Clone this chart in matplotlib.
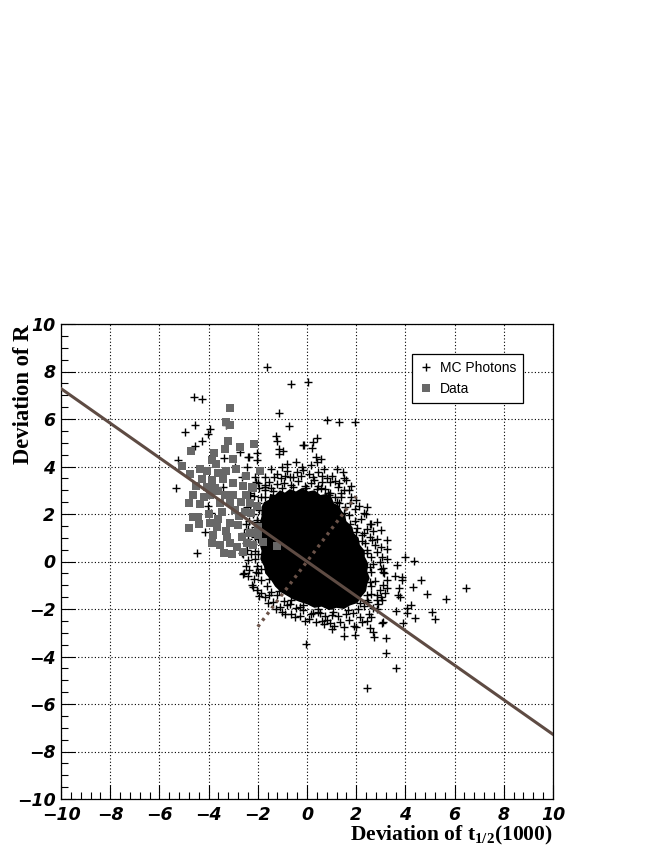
import numpy as np
import matplotlib.pyplot as plt
from matplotlib.ticker import MultipleLocator

# MC photon points (deviation of t1/2, deviation of R)
mc_outer = [
    (-1.63, 8.19), (-0.65, 7.46), (0.03, 7.56), (-1.14, 6.24), (-0.73, 5.72),
    (0.80, 5.94), (1.29, 5.89), (1.96, 5.86), (0.42, 5.21), (0.23, 5.03),
    (-0.15, 4.91), (0.19, 4.77), (-1.26, 5.28), (-1.23, 5.07), (-1.13, 4.72),
    (-0.96, 4.67), (-1.13, 4.53), (0.37, 4.40), (-2.04, 4.58), (-2.39, 4.39),
    (-2.04, 4.26), (1.48, 3.78), (1.52, 3.50),
    (-4.61, 6.94), (-4.26, 6.84), (-4.57, 5.76), (-4.95, 5.44), (-3.94, 5.58),
    (-4.01, 5.37), (-4.26, 5.06), (-4.55, 4.86), (-3.28, 5.76), (-0.13, 4.91),
    (-2.36, 4.41), (-3.39, 4.34), (-2.72, 4.62), (-5.24, 4.27), (-5.34, 3.08),
    (-2.91, 3.97), (-2.45, 3.97), (-2.65, 3.57), (-2.13, 3.55), (-2.07, 3.33),
    (-3.40, 3.15), (-2.32, 2.87), (-1.71, 3.15), (-4.04, 2.34), (-3.90, 2.03),
    (-4.13, 1.23), (-4.48, 0.35), (-2.63, 0.35), (-2.27, 0.31), (-2.55, -0.50),
    (-2.07, -0.46),
    (3.01, 1.33), (3.27, 0.91), (3.27, 0.51), (4.00, 0.20), (4.35, 0.02),
    (3.65, -0.15), (3.10, -0.29), (3.08, -0.43), (3.58, -0.60), (3.85, -0.64),
    (3.87, -0.78), (4.62, -0.78), (6.46, -1.13), (4.31, -1.09), (4.89, -1.36),
    (5.66, -1.58), (3.24, -0.78), (3.24, -1.13), (3.17, -1.34), (3.75, -1.13),
    (3.69, -1.42), (3.78, -1.48), (3.62, -2.08), (4.08, -1.97), (4.23, -1.83),
    (4.08, -2.18), (5.09, -2.13), (5.20, -2.41), (4.41, -2.38), (3.89, -2.58),
    (3.10, -2.54), (3.04, -2.61), (3.21, -3.23), (3.21, -3.87), (3.62, -4.47),
    (2.44, -5.33),
    (-0.04, -3.47), (1.03, -2.84), (1.52, -3.12), (1.95, -3.09), (1.99, -2.74),
    (2.70, -2.95), (2.72, -3.16), (2.57, -2.79), (2.45, -2.50), (0.80, -2.46),
    (0.53, -2.18), (0.26, -2.18), (-1.00, -2.11), (-0.83, -1.83), (-0.28, -1.90),
    (-1.54, -1.41), (-1.88, -1.34), (-2.18, -1.07), (-2.59, -0.53),
    (2.48, -1.72), (2.86, -1.40), (3.27, 0.09), (2.43, 2.31), (2.84, 1.68),
    (2.63, 0.91), (2.31, 1.19), (1.38, 2.87), (0.84, 2.87), (0.57, 3.08),
    (-1.71, 3.22),
    (-1.35, 3.55), (-0.9, 3.62), (-0.55, 3.55), (-0.15, 3.85), (0.25, 3.55),
    (0.62, 3.62), (0.95, 3.35), (-1.0, 4.0), (-0.45, 4.2), (0.15, 4.05),
    (0.55, 4.3), (1.2, 3.9), (-1.45, 3.9), (1.6, 3.45), (1.8, 3.2),
]

# points on the very edge of the dense core
mc_edge = [
    (-1.95, 2.15), (-1.7, 2.7), (-1.4, 2.98), (-1.0, 3.1), (-0.55, 3.12),
    (-0.05, 3.08), (0.4, 3.05), (0.9, 2.82), (1.22, 2.5), (1.5, 2.05),
    (1.75, 1.6), (2.0, 1.25), (2.22, 0.85), (2.42, 0.35), (2.55, -0.25),
    (2.58, -0.85), (2.45, -1.4), (2.15, -1.75), (1.65, -2.05), (1.05, -2.12),
    (0.45, -2.0), (-0.15, -1.85), (-0.65, -1.62), (-1.15, -1.25), (-1.55, -0.75),
    (-1.85, -0.3), (-1.98, 0.3), (-2.0, 0.95), (-2.02, 1.65),
]

# points hugging the edge of the dense core
mc_rim = [
    (-2.1, 1.45), (-2.02, 1.75), (-2.18, 2.0), (-2.0, 2.45), (-1.85, 2.7),
    (-1.72, 3.02), (-1.45, 3.1), (-1.2, 3.25), (-0.95, 3.3), (-0.65, 3.22),
    (-0.38, 3.38), (-0.1, 3.2), (0.15, 3.3), (0.45, 3.18), (0.72, 3.06),
    (0.95, 2.9), (1.15, 2.7), (1.32, 2.45), (1.55, 2.28), (1.7, 1.95),
    (1.95, 1.7), (2.02, 1.4), (2.22, 1.12), (2.35, 0.8), (2.45, 0.5),
    (2.6, 0.2), (2.68, -0.1), (2.62, -0.45), (2.75, -0.8), (2.6, -1.05),
    (2.62, -1.38), (2.42, -1.62), (2.3, -1.88), (2.08, -2.0), (1.85, -2.15),
    (1.58, -2.2), (1.28, -2.3), (1.0, -2.25), (0.72, -2.3), (0.45, -2.12),
    (0.15, -2.2), (-0.15, -2.05), (-0.45, -1.95), (-0.7, -1.78), (-0.95, -1.65),
    (-1.2, -1.4), (-1.45, -1.3), (-1.62, -1.02), (-1.85, -0.78), (-1.98, -0.5),
    (-2.05, -0.2), (-2.12, 0.1), (-2.1, 0.45), (-2.2, 0.75), (-2.12, 1.05),
    (-2.25, 1.25),
    (-2.35, 1.7), (-2.3, 2.4), (-2.15, 2.75), (-1.95, 3.1), (-1.55, 3.35),
    (-1.05, 3.5), (-0.7, 3.55), (-0.25, 3.6), (0.3, 3.45), (0.6, 3.35),
    (1.25, 3.15), (1.4, 2.7), (1.75, 2.45), (1.95, 2.2), (2.2, 1.8),
    (2.45, 1.35), (2.55, 1.05), (2.75, 0.7), (2.85, 0.4), (2.95, 0.0),
    (3.0, -0.3), (2.95, -1.2), (2.85, -1.6), (2.7, -1.95), (2.5, -2.2),
    (2.15, -2.35), (1.7, -2.45), (1.35, -2.55), (0.95, -2.6), (0.6, -2.5),
    (0.1, -2.4), (-0.3, -2.3), (-0.65, -2.2), (-1.1, -1.9), (-1.4, -1.7),
    (-1.7, -1.5), (-2.05, -1.2), (-2.15, -0.75), (-2.35, -0.35), (-2.4, 0.05),
    (-2.45, 0.5), (-2.4, 0.95), (-2.4, 1.35),
]

# sparser halo round the rim
mc_halo = [
    (-2.5, 1.6), (-2.45, 2.3), (-2.3, 2.8), (-2.0, 3.3), (-1.7, 3.55),
    (-1.2, 3.7), (-0.8, 3.8), (-0.4, 3.75), (0.1, 3.7), (0.45, 3.75),
    (0.8, 3.5), (1.15, 3.4), (1.5, 3.0), (1.8, 2.7), (2.1, 2.35),
    (2.3, 2.05), (2.55, 1.6), (2.7, 1.3), (2.85, 0.95), (3.0, 0.6),
    (3.05, 0.2), (3.15, -0.5), (3.1, -1.0), (3.05, -1.6), (2.85, -2.0),
    (2.6, -2.35), (2.25, -2.55), (1.9, -2.7), (1.5, -2.75), (1.1, -2.7),
    (0.7, -2.65), (0.35, -2.55), (-0.1, -2.5), (-0.5, -2.35), (-0.9, -2.2),
    (-1.25, -2.0), (-1.6, -1.75), (-1.95, -1.45), (-2.25, -1.0), (-2.4, -0.6),
    (-2.5, -0.2), (-2.6, 0.3), (-2.5, 0.8), (-2.55, 1.2),
    (-0.2, 4.0), (-0.8, 4.1), (0.4, 4.2), (1.0, 3.6), (1.3, 3.3), (0.7, 3.9),
    (1.7, 3.0), (2.0, 2.6), (2.4, 2.0), (2.6, 1.6), (2.9, -1.8), (3.0, -1.5),
]

# saturated centre of the MC cloud, where the markers overlap completely
core_x = [-1.85, -1.75, -1.55, -1.5, -1.3, -1.1, -0.9, -0.7, -0.45, -0.2,
          0.05, 0.3, 0.55, 0.8, 1.0, 1.1, 1.3, 1.4, 1.55, 1.6, 1.85, 1.9,
          2.1, 2.15, 2.35, 2.35, 2.5, 2.45, 2.55, 2.45, 2.4, 2.2, 2.05, 1.75,
          1.5, 1.2, 0.9, 0.6, 0.3, 0.0, -0.3, -0.55, -0.8, -1.05, -1.3, -1.45,
          -1.7, -1.75, -1.9, -1.85, -1.95, -1.85, -1.95, -1.85]
core_y = [2.3, 2.5, 2.6, 2.85, 2.8, 3.0, 2.9, 3.05, 2.95, 3.1, 2.95, 3.0,
          2.8, 2.85, 2.7, 2.45, 2.35, 2.15, 1.95, 1.7, 1.45, 1.2, 1.0, 0.7,
          0.45, 0.2, -0.1, -0.4, -0.7, -0.95, -1.25, -1.5, -1.75, -1.85, -2.0,
          -1.95, -2.05, -1.9, -1.95, -1.8, -1.7, -1.6, -1.45, -1.3, -1.05,
          -0.8, -0.5, -0.2, 0.1, 0.45, 0.8, 1.1, 1.5, 1.9]

# data points
data_pts = [
    (-3.13, 6.45), (-3.28, 5.86), (-3.12, 5.76), (-3.21, 5.09), (-2.74, 4.84),
    (-2.14, 4.95), (-4.72, 4.67), (-3.35, 4.72), (-3.77, 4.56), (-3.85, 4.27),
    (-3.02, 4.30), (-5.08, 4.03), (-4.35, 3.88), (-4.76, 3.68), (-4.08, 3.82),
    (-3.61, 3.74), (-3.29, 3.82), (-1.91, 3.82), (-4.28, 3.46), (-3.87, 3.43),
    (-3.40, 3.46), (-3.00, 3.29), (-2.61, 3.18), (-2.25, 3.15), (-4.08, 3.15),
    (-3.73, 3.08), (-4.62, 2.80), (-3.94, 2.80), (-3.33, 2.80), (-3.00, 2.80),
    (-2.48, 2.80), (-2.21, 3.08), (-4.80, 2.45), (-4.35, 2.42), (-3.54, 2.45),
    (-3.13, 2.52), (-2.32, 2.45), (-2.04, 2.34), (-3.47, 2.10), (-2.93, 2.17),
    (-2.52, 2.10), (-4.62, 1.89), (-4.42, 1.89), (-2.29, 2.03), (-4.78, 1.42),
    (-3.94, 1.63), (-3.67, 1.46), (-3.13, 1.61), (-2.79, 1.54), (-1.98, 1.47),
    (-3.81, 1.12), (-3.26, 1.04), (-2.65, 1.04), (-2.32, 1.19), (-3.87, 0.77),
    (-3.54, 0.69), (-3.13, 0.77), (-2.45, 0.77), (-2.18, 0.69), (-1.78, 0.83),
    (-3.37, 0.35), (-3.06, 0.32), (-1.23, 0.67),
    (-4.50, 3.20), (-4.20, 2.70), (-3.60, 2.95), (-2.70, 2.50), (-2.75, 1.90),
    (-3.30, 1.30), (-4.00, 2.00), (-3.60, 1.80), (-2.85, 0.60), (-2.60, 0.40),
    (-2.00, 1.10), (-4.40, 1.60), (-3.70, 4.10), (-2.50, 3.60), (-2.90, 3.90),
]

fit_slope = -0.728
x_ticks = [-10, -8, -6, -4, -2, 0, 2, 4, 6, 8, 10]
y_ticks = [-10, -8, -6, -4, -2, 0, 2, 4, 6, 8, 10]

plt.rcParams['mathtext.fontset'] = 'custom'
plt.rcParams['mathtext.rm'] = 'Liberation Serif:bold'
plt.rcParams['mathtext.it'] = 'Liberation Serif:bold'

fig = plt.figure(figsize=(6.64, 8.59), dpi=100)
ax = fig.add_axes([61 / 664, 1 - 799 / 859, 492 / 664, 475 / 859])

mc = mc_outer + mc_edge + mc_rim + mc_halo
mx, my = zip(*mc)
dx, dy = zip(*data_pts)

ax.fill(core_x, core_y, color='black', lw=0, zorder=2)
ax.plot(mx, my, '+', color='black', ms=5.6, mew=1.0, zorder=3, label='MC Photons')
ax.plot(dx, dy, 's', color='#686868', ms=6.4, mew=0, zorder=4, label='Data')

xl = np.array([-10, 10])
ax.plot(xl, fit_slope * xl, color='#5e4b43', lw=2.2, zorder=5)
xp = np.array([-2, 2])
ax.plot(xp, -xp / fit_slope, color='#6a5248', lw=2.4,
        ls=(0, (0.9, 1.4)), zorder=5)

ax.set_xlim(-10, 10)
ax.set_ylim(-10, 10)
ax.set_xticks(x_ticks)
ax.set_yticks(y_ticks)
ax.xaxis.set_minor_locator(MultipleLocator(0.4))
ax.yaxis.set_minor_locator(MultipleLocator(0.5))
ax.tick_params(which='both', direction='in', top=False, right=False, width=0.8)
ax.tick_params(which='major', length=10)
ax.tick_params(which='minor', length=5)
ax.tick_params(axis='x', pad=5)
ax.tick_params(axis='y', pad=4)
for lab in ax.get_xticklabels() + ax.get_yticklabels():
    lab.set_fontsize(12.5)
    lab.set_fontweight('bold')
    lab.set_fontstyle('italic')
    lab.set_family('DejaVu Sans')
ax.grid(True, which='major', color='black', lw=0.8, ls=(0, (1, 2)))
for s in ax.spines.values():
    s.set_linewidth(0.9)

leg = ax.legend(loc='upper left', bbox_to_anchor=(0.713, 0.937),
                prop={'family': 'Liberation Sans', 'size': 10},
                frameon=True, fancybox=False, edgecolor='black',
                borderaxespad=0, borderpad=0.5, handlelength=1.0,
                handletextpad=0.5, labelspacing=0.5, framealpha=1)
leg.get_frame().set_linewidth(0.9)

fig.text(553 / 664, 1 - 840 / 859, r'Deviation of t$_{1/2}$(1000)',
         family='Liberation Serif', weight='bold', size=15.5,
         ha='right', va='baseline')
fig.text(29 / 664, 1 - 325 / 859, 'Deviation of R', family='Liberation Serif',
         weight='bold', size=16.3, rotation=90, rotation_mode='anchor',
         ha='right', va='baseline')

fig.savefig('out.png', dpi=100)
